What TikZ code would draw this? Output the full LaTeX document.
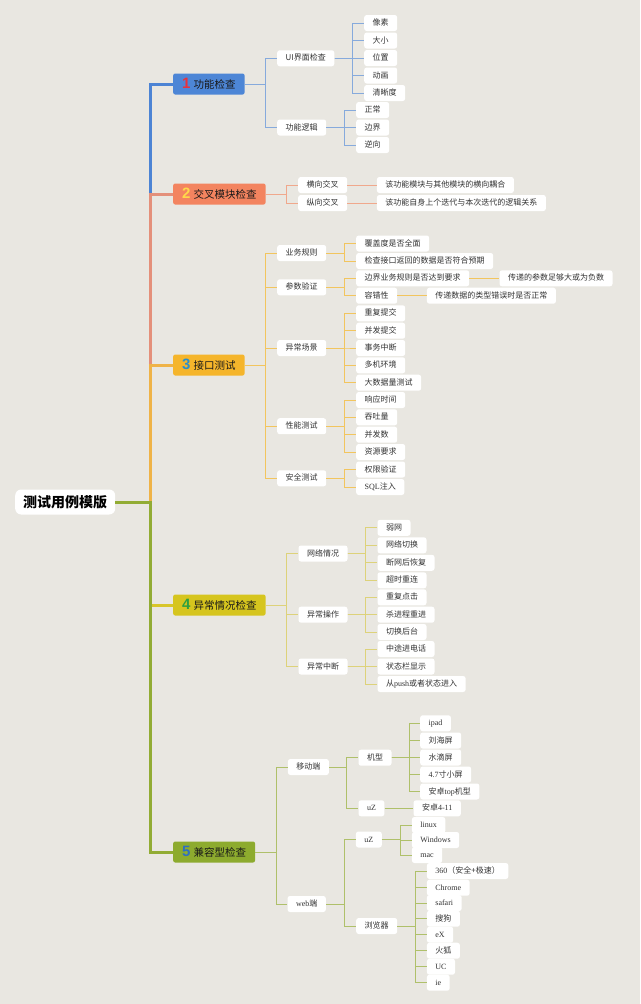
\documentclass[tikz,border=0pt]{standalone}
\usepackage{fontspec}
\setmainfont{Noto Sans CJK SC}
\newfontfamily\lat{Liberation Serif}
\newfontfamily\numf{Liberation Sans}
\definecolor{bg}{HTML}{E9E7E1}
\definecolor{k1}{HTML}{4D86D6}
\definecolor{k2}{HTML}{F3845F}
\definecolor{k3}{HTML}{F5B52B}
\definecolor{k4}{HTML}{D6C51E}
\definecolor{k5}{HTML}{8DAB2E}
\definecolor{n1}{HTML}{E8323C}
\definecolor{n2}{HTML}{FFD84A}
\definecolor{n3}{HTML}{2A8FCC}
\definecolor{n4}{HTML}{2EA040}
\definecolor{n5}{HTML}{2F6FC0}
\definecolor{t1}{HTML}{4D84D4}
\definecolor{t2}{HTML}{E4907A}
\definecolor{t3}{HTML}{EFB347}
\definecolor{t4}{HTML}{D8C62A}
\definecolor{t5}{HTML}{92AC34}
\definecolor{l1}{HTML}{86AADC}
\definecolor{l2}{HTML}{F0A88C}
\definecolor{l3}{HTML}{F2C55E}
\definecolor{l4}{HTML}{DDD27A}
\definecolor{l5}{HTML}{AFC06A}
\definecolor{txt}{HTML}{333333}
\newcommand\numc[2]{{\color{#1}\numf\bfseries\fontsize{15}{15}\selectfont #2}\hspace{3pt}}
\newcommand\brconn[4]{\foreach \cc in {#4}{\draw[#1] (#2.east) -- (#2.east -| #3) |- (\cc.west);}}
\begin{document}
\begin{tikzpicture}[x=1pt,y=-1pt,
  leaf/.style={fill=white, rounded corners=2.5pt, inner xsep=8.5pt, inner ysep=0pt,
    minimum height=16pt, text height=6.6pt, text depth=1.4pt,
    font=\fontsize{8}{8}\selectfont, text=txt, anchor=west},
  catbox/.style={rounded corners=2pt, inner xsep=9pt, inner ysep=0pt, minimum height=21pt,
    text height=10.5pt, text depth=2pt,
    font=\fontsize{10.5}{10.5}\selectfont, text=black!90, anchor=west},
  rootbox/.style={fill=white, rounded corners=6pt, inner xsep=8pt, inner ysep=0pt,
    minimum height=25pt, font=\fontsize{14}{14}\selectfont\bfseries, text=black, anchor=west},
  trunk/.style={line width=3pt},
  br/.style={line width=1pt}]
\fill[bg] (0,0) rectangle (640,1004);
\useasboundingbox (0,0) rectangle (640,1004);

% spine coordinates
\coordinate (tx) at (150,0);
\coordinate (sA) at (265.3,0);
\coordinate (sB) at (286.5,0);
\coordinate (sC) at (276,0);
\coordinate (s344) at (344,0);
\coordinate (s352) at (352,0);
\coordinate (s365) at (365,0);
\coordinate (s347) at (346.7,0);
\coordinate (s409) at (409.3,0);
\coordinate (s400) at (400,0);
\coordinate (s415) at (415,0);

% root and categories
\node[rootbox] (root) at (15,502) {测试用例模版};
\node[catbox, fill=k1] (c1) at (173,84) {\numc{n1}{1}功能检查};
\node[catbox, fill=k2] (c2) at (173,194) {\numc{n2}{2}交叉模块检查};
\node[catbox, fill=k3] (c3) at (173,365) {\numc{n3}{3}接口测试};
\node[catbox, fill=k4] (c4) at (173,605) {\numc{n4}{4}异常情况检查};
\node[catbox, fill=k5] (c5) at (173,852) {\numc{n5}{5}兼容型检查};

% trunk
\draw[trunk, t1] (root.east) -- (root.east -| tx) |- (c1.west);
\draw[trunk, t2] (root.east) -- (root.east -| tx) |- (c2.west);
\draw[trunk, t3] (root.east) -- (root.east -| tx) |- (c3.west);
\draw[trunk, t4] (root.east) -- (root.east -| tx) |- (c4.west);
\draw[trunk, t5] (root.east) -- (root.east -| tx) |- (c5.west);

% ---- 1
\node[leaf] (ui) at (277,58.3) {UI界面检查};
\node[leaf] (lj) at (277,127.5) {功能逻辑};
\node[leaf] (a1) at (364,23) {像素};
\node[leaf] (a2) at (364,40.5) {大小};
\node[leaf] (a3) at (364,58) {位置};
\node[leaf] (a4) at (364,75.5) {动画};
\node[leaf] (a5) at (364,93) {清晰度};
\node[leaf] (b1) at (356,110) {正常};
\node[leaf] (b2) at (356,127.5) {边界};
\node[leaf] (b3) at (356,145) {逆向};
\brconn{br,l1}{c1}{sA}{ui,lj}
\brconn{br,l1}{ui}{s352}{a1,a2,a3,a4,a5}
\brconn{br,l1}{lj}{s344}{b1,b2,b3}

% ---- 2
\node[leaf] (hx) at (298,185) {横向交叉};
\node[leaf] (zx) at (298,203) {纵向交叉};
\node[leaf] (hxd) at (376.7,185) {该功能模块与其他模块的横向耦合};
\node[leaf] (zxd) at (376.7,203) {该功能自身上个迭代与本次迭代的逻辑关系};
\brconn{br,l2}{c2}{sB}{hx,zx}
\draw[br,l2] (hx.east) -- (hxd.west);
\draw[br,l2] (zx.east) -- (zxd.west);

% ---- 3
\node[leaf] (yw) at (277,253) {业务规则};
\node[leaf] (cs) at (277,287.3) {参数验证};
\node[leaf] (yc) at (277,348) {异常场景};
\node[leaf] (xn) at (277,426.2) {性能测试};
\node[leaf] (aq) at (277,478.3) {安全测试};
\node[leaf] (d1) at (356,243.5) {覆盖度是否全面};
\node[leaf] (d2) at (356,261) {检查接口返回的数据是否符合预期};
\node[leaf] (e1) at (356,278.3) {边界业务规则是否达到要求};
\node[leaf] (e2) at (356,295.7) {容错性};
\node[leaf] (e1a) at (499.3,278.3) {传递的参数足够大或为负数};
\node[leaf] (e2a) at (426.7,295.7) {传递数据的类型错误时是否正常};
\node[leaf] (f1) at (356,313.3) {重复提交};
\node[leaf] (f2) at (356,330.7) {并发提交};
\node[leaf] (f3) at (356,348) {事务中断};
\node[leaf] (f4) at (356,365.3) {多机环境};
\node[leaf] (f5) at (356,382.7) {大数据量测试};
\node[leaf] (g1) at (356,400) {响应时间};
\node[leaf] (g2) at (356,417.3) {吞吐量};
\node[leaf] (g3) at (356,434.7) {并发数};
\node[leaf] (g4) at (356,452) {资源要求};
\node[leaf] (h1) at (356,469.5) {权限验证};
\node[leaf] (h2) at (356,487) {{\lat SQL}注入};
\brconn{br,l3}{c3}{sA}{yw,cs,yc,xn,aq}
\brconn{br,l3}{yw}{s344}{d1,d2}
\brconn{br,l3}{cs}{s344}{e1,e2}
\draw[br,l3] (e1.east) -- (e1a.west);
\draw[br,l3] (e2.east) -- (e2a.west);
\brconn{br,l3}{yc}{s344}{f1,f2,f3,f4,f5}
\brconn{br,l3}{xn}{s344}{g1,g2,g3,g4}
\brconn{br,l3}{aq}{s344}{h1,h2}

% ---- 4
\node[leaf] (wl) at (298.3,553.5) {网络情况};
\node[leaf] (cz) at (298.3,614.7) {异常操作};
\node[leaf] (zd) at (298.3,666.5) {异常中断};
\node[leaf] (i1) at (377.3,527.8) {弱网};
\node[leaf] (i2) at (377.3,545.3) {网络切换};
\node[leaf] (i3) at (377.3,562.8) {断网后恢复};
\node[leaf] (i4) at (377.3,580.3) {超时重连};
\node[leaf] (j1) at (377.3,597.3) {重复点击};
\node[leaf] (j2) at (377.3,614.7) {杀进程重进};
\node[leaf] (j3) at (377.3,632) {切换后台};
\node[leaf] (k1) at (377.3,649) {中途进电话};
\node[leaf] (k2) at (377.3,666.5) {状态栏显示};
\node[leaf] (k3) at (377.3,684) {从{\lat push}或者状态进入};
\brconn{br,l4}{c4}{sB}{wl,cz,zd}
\brconn{br,l4}{wl}{s365}{i1,i2,i3,i4}
\brconn{br,l4}{cz}{s365}{j1,j2,j3}
\brconn{br,l4}{zd}{s365}{k1,k2,k3}

% ---- 5
\node[leaf] (yd) at (287.7,767) {移动端};
\node[leaf] (wb) at (287.3,904) {{\lat web}端};
\node[leaf] (jx) at (358.3,757.7) {机型};
\node[leaf] (uz1) at (358.3,808.3) {{\lat uZ}};
\node[leaf] (m1) at (420,723.3) {{\lat ipad}};
\node[leaf] (m2) at (420,740.5) {刘海屏};
\node[leaf] (m3) at (420,757.5) {水滴屏};
\node[leaf] (m4) at (420,774.5) {{\lat 4.7}寸小屏};
\node[leaf] (m5) at (420,791.5) {安卓{\lat top}机型};
\node[leaf] (az) at (413.3,808.3) {安卓{\lat 4-11}};
\node[leaf] (uz2) at (355.7,839.5) {{\lat uZ}};
\node[leaf] (lq) at (356,926) {浏览器};
\node[leaf] (o1) at (411.7,825) {{\lat linux}};
\node[leaf] (o2) at (411.7,840) {{\lat Windows}};
\node[leaf] (o3) at (411.7,855) {{\lat mac}};
\node[leaf] (p1) at (426.7,871) {{\lat 360}（安全+极速）};
\node[leaf] (p2) at (426.7,887.7) {{\lat Chrome}};
\node[leaf] (p3) at (426.7,903) {{\lat safari}};
\node[leaf] (p4) at (426.7,918.7) {搜狗};
\node[leaf] (p5) at (426.7,934.7) {{\lat eX}};
\node[leaf] (p6) at (426.7,950.7) {火狐};
\node[leaf] (p7) at (426.7,966.7) {{\lat UC}};
\node[leaf] (p8) at (426.7,982.7) {{\lat ie}};
\brconn{br,l5}{c5}{sC}{yd,wb}
\brconn{br,l5}{yd}{s347}{jx,uz1}
\brconn{br,l5}{jx}{s409}{m1,m2,m3,m4,m5}
\draw[br,l5] (uz1.east) -- (az.west);
\brconn{br,l5}{wb}{s344}{uz2,lq}
\brconn{br,l5}{uz2}{s400}{o1,o2,o3}
\brconn{br,l5}{lq}{s415}{p1,p2,p3,p4,p5,p6,p7,p8}
\end{tikzpicture}
\end{document}
